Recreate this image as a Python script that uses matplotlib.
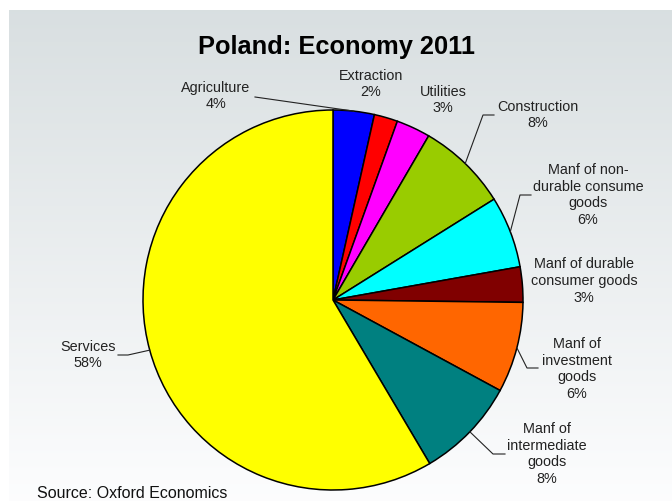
import numpy as np
import matplotlib
matplotlib.use("Agg")
import matplotlib.pyplot as plt

plt.rcParams['font.family'] = ['Liberation Sans', 'DejaVu Sans']

# slice shares as drawn, and the printed labels
sectors = ['Agriculture', 'Extraction', 'Utilities', 'Construction',
           'Manf of non-\ndurable consume\ngoods', 'Manf of durable\nconsumer goods',
           'Manf of\ninvestment\ngoods', 'Manf of\nintermediate\ngoods', 'Services']
shares = [3.5, 2.0, 2.9, 7.7, 6.1, 3.0, 7.7, 8.6, 58.5]
pct_labels = ['4%', '2%', '3%', '8%', '6%', '3%', '6%', '8%', '58%']
colors = ['#0000ff', '#ff0000', '#ff00ff', '#99cc00', '#00ffff',
          '#800000', '#ff6600', '#008080', '#ffff00']

W, H = 672, 501
cx, cy, r = 333, 300, 190

fig = plt.figure(figsize=(W / 100, H / 100), dpi=100)

# gradient panel background
bg = fig.add_axes([9 / W, 0, 1 - 9 / W, 1 - 10 / H])
top = np.array([0.850, 0.875, 0.882])
bot = np.array([0.990, 0.992, 0.996])
t = np.linspace(0, 1, 256)[:, None]
grad = top * (1 - t) + bot * t
bg.imshow(grad[:, None, :], aspect='auto', extent=[0, 1, 0, 1])
bg.axis('off')

# pie
ax = fig.add_axes([(cx - r) / W, (H - cy - r) / H, 2 * r / W, 2 * r / H])
ax.pie(shares, colors=colors, startangle=90, counterclock=False, radius=1,
       wedgeprops=dict(edgecolor='black', linewidth=1.1, clip_on=False))
ax.set_xlim(-1, 1)
ax.set_ylim(-1, 1)
ax.axis('off')

# overlay in pixel coordinates for text and leaders
ov = fig.add_axes([0, 0, 1, 1])
ov.set_xlim(0, W)
ov.set_ylim(H, 0)
ov.axis('off')
ov.patch.set_alpha(0)

# anchor points at the middle of each wedge arc
cum = np.cumsum([0] + shares)
mids = (cum[:-1] + cum[1:]) / 2 / sum(shares) * 360
anchors = [(cx + r * np.sin(np.radians(a)), cy - r * np.cos(np.radians(a))) for a in mids]

label_pos = [(216, 96), (371, 84), (443, 100), (538, 115), (588, 195),
             (584, 281), (577, 369), (547, 454), (88, 355)]
leaders = {0: [(255, 97)],
           3: [(483, 115), (494, 115)],
           4: [(520, 195), (531, 195)],
           6: [(527, 368), (538, 368)],
           7: [(493, 454), (505, 454)],
           8: [(128, 355), (118, 355)]}

for i, (name, pct) in enumerate(zip(sectors, pct_labels)):
    x, y = label_pos[i]
    ov.text(x, y, name + '\n' + pct, ha='center', va='center', fontsize=10.4,
            color='#222222', linespacing=1.25)
    if i in leaders:
        pts = [anchors[i]] + leaders[i]
        ov.plot([p[0] for p in pts], [p[1] for p in pts], color='#222222', lw=0.8)

ov.text(336, 47, 'Poland: Economy 2011', ha='center', va='center',
        fontsize=18.3, fontweight='bold', color='black')
ov.text(37, 494, 'Source: Oxford Economics', ha='left', va='center',
        fontsize=11.5, color='#111111')

fig.savefig('out.png', dpi=100)
